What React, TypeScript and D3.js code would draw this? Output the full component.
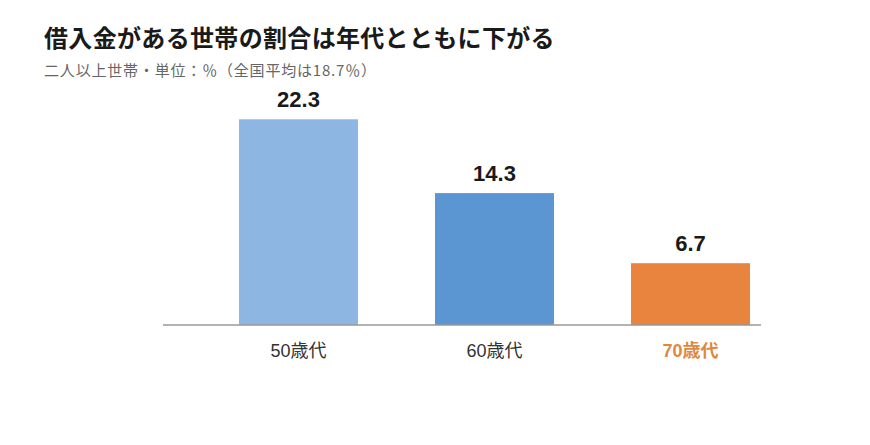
import * as d3 from 'd3';
import { useMemo } from 'react';

const categories = ['50歳代', '60歳代', '70歳代'];
const values = [22.3, 14.3, 6.7];
const barColors = ['#8DB7E2', '#5B96D3', '#E8843D'];

const TITLE = '借入金がある世帯の割合は年代とともに下がる';
const SUBTITLE = '二人以上世帯・単位：％（全国平均は18.7％）';

const FONT = '"Liberation Sans", "Noto Sans CJK JP", sans-serif';
const CJK_FONT = '"Noto Sans CJK JP", sans-serif';

export default function App() {
  const width = 870;
  const height = 445;
  const baseline = 325;

  // x scale for bars
  const xScale = useMemo(() => {
    return d3.scaleBand<string>()
      .domain(categories)
      .range([200.5, 788.5])
      .paddingInner(0.393)
      .paddingOuter(0.1965);
  }, []);

  const yScale = useMemo(() => {
    return d3.scaleLinear()
      .domain([0, 25])
      .range([baseline, baseline - 230.6]);
  }, []);

  return (
    <svg
      width={width}
      height={height}
      style={{ position: 'absolute', left: 0, top: 0, background: '#fff' }}
      fontFamily={FONT}
    >
      {/* title */}
      <text x={44} y={47} fontSize={24} fontWeight="bold" fill="#1a1a1a" letterSpacing={0.33}>
        {TITLE}
      </text>
      <text
        x={44}
        y={76}
        fontSize={15}
        fill="#666"
        fontFamily={CJK_FONT}
        textLength={332}
        lengthAdjust="spacing"
      >
        {SUBTITLE}
      </text>

      {/* bars */}
      {categories.map((c, i) => {
        const x = xScale(c) ?? 0;
        const y = yScale(values[i]);
        return (
          <g key={c}>
            <rect
              x={x}
              y={y}
              width={xScale.bandwidth()}
              height={baseline - y}
              fill={barColors[i]}
            />
            <text
              x={x + xScale.bandwidth() / 2}
              y={y - 12.5}
              textAnchor="middle"
              fontSize={22}
              fontWeight="bold"
              fill="#1a1a1a"
            >
              {values[i].toFixed(1)}
            </text>
            <text
              x={x + xScale.bandwidth() / 2}
              y={357}
              textAnchor="middle"
              fontSize={18}
              fontWeight={i === 2 ? 'bold' : 'normal'}
              fill={i === 2 ? '#E0883F' : '#333'}
            >
              {c}
            </text>
          </g>
        );
      })}

      {/* axis line */}
      <line x1={163} x2={761} y1={baseline} y2={baseline} stroke="#999" strokeWidth={1.5} />
    </svg>
  );
}
